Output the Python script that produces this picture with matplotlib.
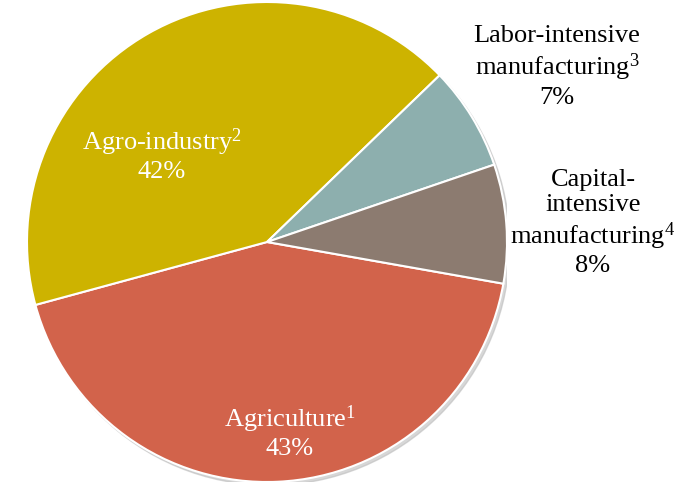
import matplotlib.pyplot as plt
from matplotlib.patches import Circle

# ----------------------------
# DATA
# ----------------------------
sectors = ["Agriculture", "Agro-industry", "Labor-intensive\nmanufacturing", "Capital-\nintensive\nmanufacturing"]
notes = ["1", "2", "3", "4"]
shares = [43, 42, 7, 8]
colors = ["#D2634B", "#CDB300", "#8DAFAE", "#8C7B70"]
text_colors = ["white", "white", "black", "black"]

plt.rcParams['font.family'] = ['Liberation Serif', 'DejaVu Serif']
plt.rcParams['mathtext.fontset'] = 'custom'
plt.rcParams['mathtext.rm'] = 'Liberation Serif'
plt.rcParams['mathtext.it'] = 'Liberation Serif'
plt.rcParams['mathtext.default'] = 'rm'

fig = plt.figure(figsize=(6.85, 4.83), dpi=100)
ax = fig.add_axes([27 / 685, 1 / 483, 480 / 685, 480 / 483])

# soft shadow under the pie
ax.add_patch(Circle((0.012, -0.014), 1.0, color="#bdbdbd", alpha=0.6, zorder=0))

ax.pie(shares, colors=colors, startangle=-10, counterclock=False,
       wedgeprops=dict(edgecolor="white", linewidth=1.5))

# label positions in pixel space of the figure (center of text block)
label_px = [(290, 432), (162, 155), (557, 67), (593, 223)]

for name, note, val, tc, (px, py) in zip(sectors, notes, shares, text_colors, label_px):
    x = (px - 267) / 240
    y = (242 - py) / 240
    ax.text(x, y, f"{name}$^{{{note}}}$\n{val}%", ha="center", va="center",
            fontsize=19, color=tc, linespacing=1.2, clip_on=False)

ax.set_xlim(-1, 1)
ax.set_ylim(-1, 1)
ax.set_aspect("equal")
ax.axis("off")

fig.savefig("out.png", dpi=100)
